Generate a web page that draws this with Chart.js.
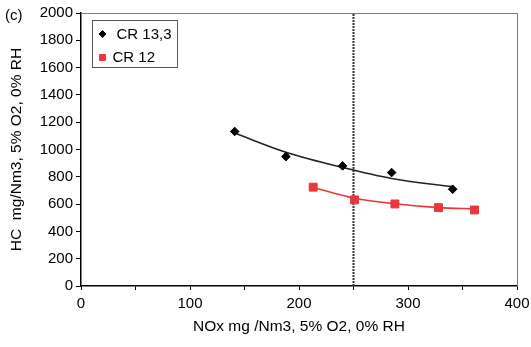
<!DOCTYPE html>
<html>
<head>
<meta charset="utf-8">
<script src="https://cdn.jsdelivr.net/npm/chart.js@4/dist/chart.umd.min.js"></script>
<style>
  html, body { margin: 0; padding: 0; background: #fff; }
  #wrap { width: 531px; height: 347px; }
</style>
</head>
<body>
<div id="wrap"><canvas id="c" width="531" height="347"></canvas></div>
<script>
// ---- data ----
const cr133X = [141, 188, 240, 285, 341];
const cr133Y = [1132, 948, 880, 831, 709];
const cr12X  = [213, 251, 288, 328, 361];
const cr12Y  = [724, 631, 601, 574, 557];

// trend lines
const trend133X = [141, 188, 240, 285, 341];
const trend133Y = [1120, 980, 868, 788, 726];
const trend12X  = [213, 251, 288, 328, 361];
const trend12Y  = [722, 643, 602, 574, 566];

// vertical reference line
const refLineX = 250;
const refLineY = [0, 2000];

const xTicks = [0, 100, 200, 300, 400];
const seriesNames = ['CR 13,3', 'CR 12'];

const FONT = "'Liberation Sans', Arial, sans-serif";
const BLACK = '#000';
const RED = '#e8383d';

const pts = (xs, ys) => xs.map((x, i) => ({ x: x, y: ys[i] }));

const framePlugin = {
  id: 'frame',
  afterDatasetsDraw(chart) {
    const { ctx, chartArea: a } = chart;
    ctx.save();
    ctx.strokeStyle = '#7a7a7a';
    ctx.lineWidth = 1;
    ctx.beginPath();
    ctx.moveTo(a.left, a.top + 0.5);
    ctx.lineTo(a.right + 0.5, a.top + 0.5);
    ctx.lineTo(a.right + 0.5, a.bottom);
    ctx.stroke();
    ctx.restore();
  }
};

const legendPlugin = {
  id: 'boxLegend',
  afterDraw(chart) {
    const { ctx } = chart;
    ctx.save();
    // panel label
    ctx.fillStyle = BLACK;
    ctx.font = '15px ' + FONT;
    ctx.textBaseline = 'middle';
    ctx.textAlign = 'left';
    ctx.fillText('(c)', 5, 16);
    // legend box
    ctx.fillStyle = '#fff';
    ctx.fillRect(92.5, 20.5, 85, 47);
    ctx.strokeStyle = '#555';
    ctx.lineWidth = 1;
    ctx.strokeRect(92.5, 20.5, 85, 47);
    // entries
    ctx.fillStyle = BLACK; ctx.strokeStyle = BLACK;
    Chart.helpers.drawPoint(ctx, { pointStyle: 'rectRot', radius: 3.5, borderWidth: 1 }, 102.5, 34);
    ctx.fillStyle = RED; ctx.strokeStyle = RED;
    Chart.helpers.drawPoint(ctx, { pointStyle: 'rect', radius: 4.3, borderWidth: 1 }, 102.5, 57.5);
    ctx.fillStyle = BLACK;
    ctx.font = '15px ' + FONT;
    ctx.textBaseline = 'middle';
    ctx.textAlign = 'left';
    ctx.fillText(seriesNames[0], 116.5, 34.5);
    ctx.fillText(seriesNames[1], 112.5, 57.5);
    ctx.restore();
  }
};

new Chart(document.getElementById('c'), {
  type: 'scatter',
  data: {
    datasets: [
      {
        label: seriesNames[0],
        data: pts(cr133X, cr133Y),
        pointStyle: 'rectRot',
        pointRadius: 4.3,
        backgroundColor: BLACK,
        borderColor: BLACK,
        borderWidth: 1,
        showLine: false,
        order: 0
      },
      {
        label: seriesNames[1],
        data: pts(cr12X, cr12Y),
        pointStyle: 'rect',
        pointRadius: 5.6,
        backgroundColor: RED,
        borderColor: RED,
        borderWidth: 1,
        showLine: false,
        order: 0
      },
      {
        label: 'trend 13,3',
        data: pts(trend133X, trend133Y),
        showLine: true,
        pointRadius: 0,
        borderColor: '#222',
        borderWidth: 1.6,
        cubicInterpolationMode: 'monotone',
        order: 1
      },
      {
        label: 'trend 12',
        data: pts(trend12X, trend12Y),
        showLine: true,
        pointRadius: 0,
        borderColor: RED,
        borderWidth: 1.6,
        cubicInterpolationMode: 'monotone',
        order: 1
      },
      {
        label: 'limit',
        data: refLineY.map(y => ({ x: refLineX, y: y })),
        showLine: true,
        pointRadius: 0,
        borderColor: '#333',
        borderWidth: 2,
        borderDash: [2, 1],
        order: 2
      }
    ]
  },
  options: {
    responsive: false,
    devicePixelRatio: 1,
    animation: false,
    layout: { padding: { left: 0, top: 13, right: 0, bottom: 0 } },
    plugins: {
      legend: { display: false },
      tooltip: { enabled: false }
    },
    scales: {
      x: {
        type: 'linear',
        min: 0, max: 400,
        afterFit(s) { s.height = 61; s.paddingRight = 14; },
        afterBuildTicks(s) {
          const t = [];
          for (let v = 0; v <= 400; v += 50) t.push({ value: v });
          s.ticks = t;
        },
        ticks: {
          autoSkip: false,
          maxRotation: 0,
          padding: 5,
          color: BLACK,
          font: { family: FONT, size: 15 },
          callback: (v) => xTicks.includes(v) ? String(v) : ''
        },
        grid: { drawOnChartArea: false, drawTicks: true, tickLength: 4, color: '#000', lineWidth: 1 },
        border: { color: '#000', width: 1.5 },
        title: {
          display: true,
          text: 'NOx mg /Nm3, 5% O2, 0% RH',
          color: BLACK,
          font: { family: FONT, size: 15.5 },
          padding: { top: 11, bottom: 11 }
        }
      },
      y: {
        type: 'linear',
        min: 0, max: 2000,
        afterFit(s) { s.width = 81; },
        ticks: {
          stepSize: 200,
          autoSkip: false,
          padding: 3,
          color: BLACK,
          font: { family: FONT, size: 15 },
          callback: (v) => String(v)
        },
        grid: { drawOnChartArea: false, drawTicks: true, tickLength: 5, color: '#000', lineWidth: 1 },
        border: { color: '#000', width: 1.5 },
        title: {
          display: true,
          text: 'HC  mg/Nm3, 5% O2, 0% RH',
          color: BLACK,
          font: { family: FONT, size: 15.5 },
          padding: { top: 7, bottom: 7 }
        }
      }
    }
  },
  plugins: [framePlugin, legendPlugin]
});
</script>
</body>
</html>
